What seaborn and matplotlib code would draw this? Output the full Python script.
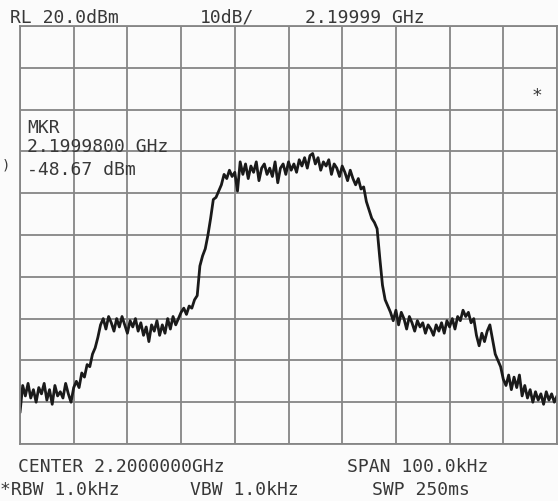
import numpy as np
import pandas as pd
import matplotlib
matplotlib.use("Agg")
import matplotlib.pyplot as plt
import seaborn as sns

# ---- data ----
start_khz = -50.0          # offset from centre, kHz
step_khz = 0.5             # sweep point spacing, kHz
level_dbm = [
    # -50 .. -40 kHz : low floor
    -72.5, -66.0, -68.5, -65.5, -69.0, -67.0, -70.0, -66.5, -68.0, -65.5,
    -69.5, -67.0, -70.5, -66.0, -68.5, -67.5, -69.0, -65.5, -68.0, -70.0, -66.5,
    # -39.5 .. -35 : first rise
    -65.0, -66.5, -63.0, -64.0, -61.0, -61.5, -58.5, -57.0, -54.5, -51.5,
    # -34.5 .. -17 : left shoulder
    -50.0, -52.5, -49.5, -51.0, -53.0, -50.0, -52.0, -49.5, -51.5, -53.5,
    -50.5, -52.0, -50.0, -53.0, -51.0, -54.0, -52.0, -55.5, -51.5, -53.0,
    -50.5, -54.0, -51.5, -53.5, -50.0, -52.5, -49.5, -51.5, -50.0, -48.5,
    -47.5, -49.0, -47.0, -47.5, -45.5, -44.5,
    # -16.5 .. -10 : main rise
    -37.4, -35.0, -33.3, -30.0, -26.0, -21.5, -21.0, -19.5, -18.0, -15.5,
    -16.5, -14.5, -16.0, -15.0,
    # -9.5 .. 13.5 : main channel
    -19.5, -12.5, -15.5, -13.0, -16.5, -13.5, -15.0, -12.5, -17.0, -14.0,
    -13.0, -15.5, -14.0, -16.0, -12.5, -17.5, -14.0, -13.0, -15.5, -12.5,
    -14.5, -13.0, -15.0, -12.0, -13.5, -11.5, -14.0, -11.0, -10.5, -13.0,
    -11.5, -14.5, -12.5, -13.5, -12.0, -15.5, -13.0, -14.0, -16.0, -13.5,
    -15.0, -17.0, -14.5, -16.5, -18.0, -16.5, -19.0,
    # 14 .. 20 : main fall
    -18.5, -22.0, -24.0, -26.0, -27.0, -28.5, -35.5, -42.0, -45.5, -47.0,
    -48.5, -50.5, -48.0,
    # 20.5 .. 38.5 : right shoulder
    -51.5, -48.5, -50.0, -52.5, -49.5, -51.0, -53.0, -50.5, -52.0, -51.0,
    -53.5, -51.5, -52.5, -54.0, -51.5, -53.0, -51.0, -53.5, -50.5, -52.0,
    -50.0, -52.5, -49.5, -50.5, -48.0, -49.5, -48.5, -51.0, -50.0, -54.0,
    -56.5, -53.5, -55.5, -53.0, -51.5, -55.0, -58.5,
    # 39 .. 50 : right floor
    -60.0, -61.5, -64.5, -66.0, -63.5, -67.0, -64.0, -66.5, -63.5, -68.5,
    -66.0, -69.0, -67.0, -70.0, -67.5, -69.5, -68.0, -70.5, -67.5, -69.5,
    -68.0, -70.0, -68.5,
]
freq_khz = start_khz + step_khz * np.arange(len(level_dbm))

ref_level = 20.0
db_per_div = 10.0
n_div = 10
span_khz = 100.0

top_left = ["RL 20.0dBm", "10dB/", "2.19999 GHz"]
marker_lines = ["MKR", "2.1999800 GHz", "-48.67 dBm"]
bottom_row1 = ["CENTER 2.2000000GHz", "SPAN 100.0kHz"]
bottom_row2 = ["*RBW 1.0kHz", "VBW 1.0kHz", "SWP 250ms"]

df = pd.DataFrame({"freq": freq_khz, "level": level_dbm})

# ---- figure ----
W, H = 558, 502
fig = plt.figure(figsize=(W / 100, H / 100), dpi=100, facecolor="#fbfbfb")
sns.set_style("white")
ax = fig.add_axes([20 / W, (H - 445) / H, 537 / W, 418 / H])
ax.set_facecolor("#fbfbfb")

sns.lineplot(data=df, x="freq", y="level", ax=ax, color="#1a1a1a",
             linewidth=2.0, legend=False)

ax.set_xlim(-span_khz / 2, span_khz / 2)
ax.set_ylim(ref_level - n_div * db_per_div, ref_level)
ax.set_xticks(np.linspace(-span_khz / 2, span_khz / 2, n_div + 1))
ax.set_yticks(np.linspace(ref_level - n_div * db_per_div, ref_level, n_div + 1))
ax.grid(True, color="#858585", linewidth=1.3)
ax.tick_params(length=0, labelbottom=False, labelleft=False)
ax.set_xlabel("")
ax.set_ylabel("")
for s in ax.spines.values():
    s.set_color("#858585")
    s.set_linewidth(1.3)

mono = "DejaVu Sans Mono"
fs = 13
tc = "#383838"


def put(txt, x, y, **kw):
    fig.text(x / W, 1 - y / H, txt, ha="left", va="baseline",
             family=mono, fontsize=kw.pop("fontsize", fs), color=tc, **kw)


put(top_left[0], 10, 23)
put(top_left[1], 200, 23)
put(top_left[2], 305, 23)

put(marker_lines[0], 27, 133)
put(marker_lines[1], 27, 152)
put(marker_lines[2], 27, 175)

put(bottom_row1[0], 18, 472)
put(bottom_row1[1], 347, 472)
put(bottom_row2[0], 0, 495)
put(bottom_row2[1], 190, 495)
put(bottom_row2[2], 372, 495)

put("*", 532, 101)
put(")", 2, 170, fontsize=10)

fig.savefig("out.png", dpi=100, facecolor=fig.get_facecolor())
